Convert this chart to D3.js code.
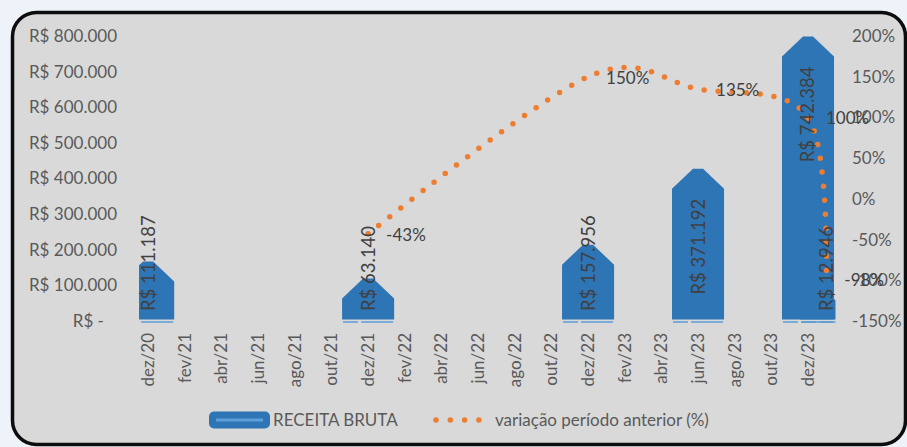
<!DOCTYPE html>
<html lang="pt-BR">
<head>
  <meta charset="UTF-8">
  <title>Receita Bruta</title>
  <script src="https://d3js.org/d3.v7.min.js"></script>
  <style>
    body {
      margin: 0;
      background: #eef3fa;
    }
    svg {
      display: block;
      font-family: Lato, "Open Sans", sans-serif;
    }
    .axis-label {
      fill: #595959;
      font-size: 17px;
    }
    .data-label {
      fill: #404040;
      font-size: 17px;
    }
    .bar-label {
      font-size: 18.5px;
    }
  </style>
</head>
<body>
  <div id="chart"></div>

  <script>
    // dados
    const categories = ["dez/20", "dez/21", "dez/22", "jun/23", "dez/23", "jan/24"];
    const receita = [111187, 63140, 157956, 371192, 742384, 12946];
    const variacao = [null, -43, 150, 135, 100, -98];

    const monthNames = ["jan", "fev", "mar", "abr", "mai", "jun", "jul", "ago", "set", "out", "nov", "dez"];
    const xTicks = ["dez/20", "fev/21", "abr/21", "jun/21", "ago/21", "out/21", "dez/21", "fev/22", "abr/22",
                    "jun/22", "ago/22", "out/22", "dez/22", "fev/23", "abr/23", "jun/23", "ago/23", "out/23", "dez/23"];
    const yTicks = [0, 100000, 200000, 300000, 400000, 500000, 600000, 700000, 800000];
    const pctTicks = [-150, -100, -50, 0, 50, 100, 150, 200];
    const legendLabels = ["RECEITA BRUTA", "variação período anterior (%)"];

    // eixo de datas mensal (dez/20 .. jan/24)
    const months = ["dez/20"];
    for (const yy of ["21", "22", "23"]) monthNames.forEach(m => months.push(m + "/" + yy));
    months.push("jan/24");

    const w = 907;
    const h = 447;
    const plot = { left: 139, right: 835.5, top: 36, bottom: 321 };

    const svg = d3.select("#chart")
                  .append("svg")
                  .attr("width", w)
                  .attr("height", h);

    // fundo com borda arredondada
    svg.append("rect")
       .attr("x", 12.5)
       .attr("y", 12.5)
       .attr("width", 893)
       .attr("height", 432)
       .attr("rx", 24)
       .attr("fill", "#d9d9d9")
       .attr("stroke", "#0d0d0d")
       .attr("stroke-width", 3.5);

    const x = d3.scaleBand()
                .domain(months)
                .range([plot.left, plot.right])
                .padding(0);
    const cx = m => x(m) + x.bandwidth() / 2;

    const y = d3.scaleLinear()
                .domain([0, 800000])
                .range([plot.bottom, plot.top]);

    const yPct = d3.scaleLinear()
                   .domain([-150, 200])
                   .range([plot.bottom, plot.top]);

    // eixos
    const fmtBRL = d => d === 0 ? "R$ -\u00A0\u00A0\u00A0" : "R$ " + d3.format(",")(d).replace(/,/g, ".");

    const yAxis = svg.append("g")
       .attr("transform", "translate(117, 0)")
       .call(d3.axisLeft(y).tickValues(yTicks).tickSize(0).tickPadding(0).tickFormat(fmtBRL));

    const pAxis = svg.append("g")
       .attr("transform", "translate(852, 0)")
       .call(d3.axisRight(yPct).tickValues(pctTicks).tickSize(0).tickPadding(0).tickFormat(d => d + "%"));

    const xAxis = svg.append("g")
       .attr("transform", `translate(0, ${plot.bottom})`)
       .call(d3.axisBottom(x).tickValues(xTicks).tickSize(0));

    xAxis.selectAll("text")
         .attr("transform", "rotate(-90)")
         .attr("text-anchor", "end")
         .attr("x", -12)
         .attr("y", 0)
         .attr("dy", "0.35em");

    [yAxis, pAxis, xAxis].forEach(g => {
      g.attr("font-size", null).attr("font-family", null);
      g.select(".domain").remove();
      g.selectAll("text").attr("class", "axis-label").attr("fill", null);
    });

    // barras em forma de pentágono
    const barW = x.bandwidth() * 2.84;
    const tip = 20, flat = 5;
    const barPath = (c, v) => {
      const x0 = c - barW / 2, x1 = c + barW / 2, yv = y(v), b = y(0) - 1.5;
      return `M${x0},${b}L${x0},${yv}L${c - flat},${yv - tip}L${c + flat},${yv - tip}L${x1},${yv}L${x1},${b}Z`;
    };

    svg.append("clipPath")
       .attr("id", "plot-clip")
       .append("rect")
       .attr("x", plot.left)
       .attr("y", 0)
       .attr("width", plot.right - plot.left)
       .attr("height", plot.bottom + 4);

    const bars = svg.append("g").attr("clip-path", "url(#plot-clip)");

    bars.selectAll(".bar")
        .data(categories)
        .enter()
        .append("path")
        .attr("class", "bar")
        .attr("d", (d, i) => barPath(cx(d), receita[i]))
        .attr("fill", "#2e75b6");

    // filete claro sob as barras
    categories.forEach(d => {
      const c = cx(d);
      [[c - barW / 2 + 1, c - 10], [c - 7, c + barW / 2 - 1]].forEach(s => {
        bars.append("line")
            .attr("x1", s[0]).attr("x2", s[1])
            .attr("y1", y(0) + 1).attr("y2", y(0) + 1)
            .attr("stroke", "#5b9bd5")
            .attr("stroke-width", 1.5);
      });
    });

    // linha de variação
    const lineData = categories.map((d, i) => ({ m: d, v: variacao[i] }));
    const line = d3.line()
                   .defined(d => d.v != null)
                   .x(d => cx(d.m))
                   .y(d => yPct(d.v))
                   .curve(d3.curveCardinal.tension(0));

    svg.append("path")
       .datum(lineData)
       .attr("d", line)
       .attr("fill", "none")
       .attr("stroke", "#ed7d31")
       .attr("stroke-width", 5.5)
       .attr("stroke-linecap", "round")
       .attr("stroke-dasharray", "0 14");

    // rótulos das barras
    const base = y(0);
    svg.selectAll(".bar-label")
       .data(categories)
       .enter()
       .append("text")
       .attr("class", "data-label bar-label")
       .attr("text-anchor", "start")
       .attr("dy", "0.35em")
       .text((d, i) => fmtBRL(receita[i]))
       .each(function(d, i) {
         const len = this.getComputedTextLength();
         const bottom = Math.min(y(receita[i]) + 10 + len, base - 10);
         d3.select(this).attr("transform", `translate(${cx(d)}, ${bottom}) rotate(-90)`);
       });

    // rótulos da linha
    svg.selectAll(".pct-label")
       .data(lineData.filter(d => d.v != null))
       .enter()
       .append("text")
       .attr("class", "data-label pct-label")
       .attr("x", d => cx(d.m) + 18)
       .attr("y", d => yPct(d.v) + 1)
       .attr("dy", "0.35em")
       .text(d => d.v + "%");

    // legenda
    const leg = svg.append("g").attr("transform", "translate(0, 420)");
    leg.append("rect")
       .attr("x", 209).attr("y", -8.5)
       .attr("width", 61).attr("height", 17)
       .attr("rx", 5)
       .attr("fill", "#2e75b6");
    leg.append("line")
       .attr("x1", 216).attr("x2", 263)
       .attr("stroke", "#5fa0dc")
       .attr("stroke-width", 3);
    leg.append("text")
       .attr("class", "axis-label")
       .attr("x", 273)
       .attr("dy", "0.35em")
       .text(legendLabels[0]);
    leg.append("line")
       .attr("x1", 436).attr("x2", 480)
       .attr("stroke", "#ed7d31")
       .attr("stroke-width", 5.5)
       .attr("stroke-linecap", "round")
       .attr("stroke-dasharray", "0 14.3");
    leg.append("text")
       .attr("class", "axis-label")
       .attr("x", 495)
       .attr("dy", "0.35em")
       .text(legendLabels[1]);
  </script>
</body>
</html>
